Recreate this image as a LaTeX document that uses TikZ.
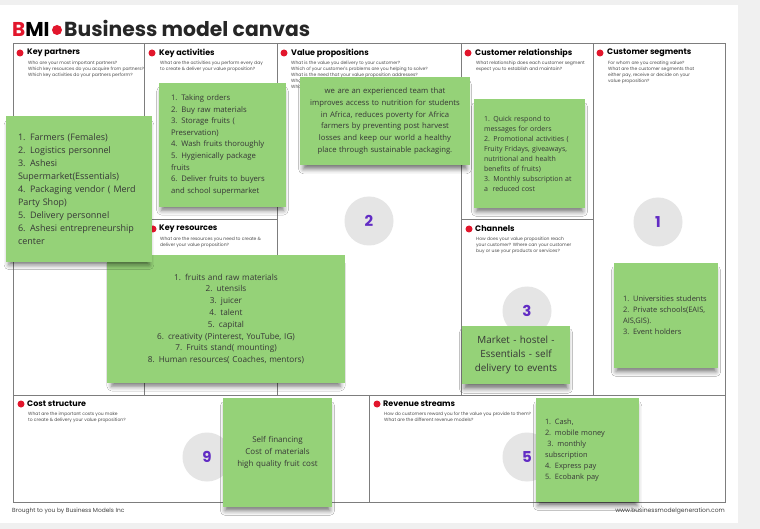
\documentclass[tikz,border=0pt]{standalone}
\usepackage{fontspec}
\setmainfont{Open Sans}
\newfontfamily\poppins{Poppins}
\usetikzlibrary{shadows.blur}

\definecolor{notegreen}{RGB}{149,210,120}
\definecolor{bmired}{RGB}{226,22,44}
\definecolor{numpurple}{RGB}{98,44,196}
\definecolor{gridgray}{RGB}{125,125,125}
\definecolor{notetext}{RGB}{55,55,55}
\definecolor{pagegray}{RGB}{240,240,240}

\tikzset{
  sticky/.style={rectangle, fill=notegreen, text=notetext, inner sep=0pt, blur shadow={shadow xshift=0pt, shadow yshift=-6pt, shadow opacity=55, shadow scale=0.96, shadow blur radius=5pt}},
  reddot/.style={circle, fill=bmired, inner sep=0pt, minimum size=7pt},
  heading/.style={anchor=west, inner sep=0pt, font=\poppins\bfseries\fontsize{8}{9}\selectfont},
  question/.style={anchor=north west, inner sep=0pt, align=left, text=black!70, font=\poppins\fontsize{4.5}{6}\selectfont},
  numcircle/.style={circle, fill=black!10, minimum size=49pt, inner sep=0pt, text=numpurple, font=\poppins\bfseries\fontsize{15}{15}\selectfont},
  footer/.style={inner sep=0pt, text=black!75, font=\poppins\fontsize{5.9}{6}\selectfont}
}

\begin{document}
\begin{tikzpicture}[x=1pt, y=-1pt]
        \useasboundingbox (0,0) rectangle (760,529);
        % Page
        \fill[pagegray] (0,0) rectangle (760,529);
        \fill[white] (0,5) rectangle (738,523);
        % Title
        \node (bmi) [anchor=base west, inner sep=0pt, font=\poppins\bfseries\fontsize{20}{22}\selectfont] at (12,37) {\textcolor{bmired}{B}MI};
        \node (titledot) [reddot, minimum size=10pt] at (57,30) {};
        \node (title) [anchor=base west, inner sep=0pt, font=\poppins\bfseries\fontsize{20.3}{22}\selectfont, text=black!85] at (64,37) {Business model canvas};
        % Grid
        \draw[gridgray, line width=1pt] (13,44) rectangle (725,502);
        \draw[gridgray, line width=1pt] (144,44) -- (144,395);
        \draw[gridgray, line width=1pt] (277,44) -- (277,395);
        \draw[gridgray, line width=1pt] (461,44) -- (461,395);
        \draw[gridgray, line width=1pt] (593,44) -- (593,395);
        \draw[gridgray, line width=1pt] (13,395) -- (725,395);
        \draw[gridgray, line width=1pt] (144,220) -- (277,220);
        \draw[gridgray, line width=1pt] (461,220) -- (593,220);
        \draw[gridgray, line width=1pt] (369,395) -- (369,502);
        % Headings
        \node (dot-kp) [reddot] at (20,53) {};
        \node (head-kp) [heading] at (27,53) {Key partners};
        \node (q-kp) [question] at (28,60.5) {Who are your most important partners?\\Which key resources do you acquire from partners?\\Which key activities do your partners perform?};
        \node (dot-ka) [reddot] at (152,53) {};
        \node (head-ka) [heading] at (159,53) {Key activities};
        \node (q-ka) [question] at (160,60.5) {What are the activities you perform every day\\to create \& deliver your value proposition?};
        \node (dot-vp) [reddot] at (284,53) {};
        \node (head-vp) [heading] at (291,53) {Value propositions};
        \node (q-vp) [question] at (291,60.5) {What is the value you delivery to your customer?\\Which of your customer's problems are you helping to solve?\\What is the need that your value proposition addresses?\\What is your promise to your customers?\\What are the products and services you create?};
        \node (dot-cr) [reddot] at (468,53) {};
        \node (head-cr) [heading] at (475,53) {Customer relationships};
        \node (q-cr) [question] at (476,60.5) {What relationship does each customer segment\\expect you to establish and maintain?};
        \node (dot-cs) [reddot] at (600,53) {};
        \node (head-cs) [heading] at (607,53) {Customer segments};
        \node (q-cs) [question] at (608,60.5) {For whom are you creating value?\\What are the customer segments that\\either pay, receive or decide on your\\value proposition?};
        \node (dot-kr) [reddot] at (153,229) {};
        \node (head-kr) [heading] at (159,229) {Key resources};
        \node (q-kr) [question] at (160,236.5) {What are the resources you need to create \&\\deliver your value proposition?};
        \node (dot-ch) [reddot] at (469,229) {};
        \node (head-ch) [heading] at (475,229) {Channels};
        \node (q-ch) [question] at (476,236.5) {How does your value proposition reach\\your customer? Where can your customer\\buy or use your products or services?};
        \node (dot-cost) [reddot] at (21,404) {};
        \node (head-cost) [heading] at (27,404) {Cost structure};
        \node (q-cost) [question] at (28,411.5) {What are the important costs you make\\to create \& delivery your value proposition?};
        \node (dot-rev) [reddot] at (377,404) {};
        \node (head-rev) [heading] at (383,404) {Revenue streams};
        \node (q-rev) [question] at (384,411.5) {How do customers reward you for the value you provide to them?\\What are the different revenue models?};
        % Numbers
        \node (num-vp) [numcircle] at (369,221) {2};
        \node (num-cs) [numcircle] at (658,222) {1};
        \node (num-ch) [numcircle] at (527,311) {3};
        \node (num-cost) [numcircle] at (207,457) {9};
        \node (num-rev) [numcircle] at (527,457) {5};
        % Sticky notes
        \node (note-kr) [sticky, minimum width=238pt, minimum height=128pt, text width=232pt, align=center, font=\fontsize{8.2}{11.8}\selectfont] at (226,319) {1. fruits and raw materials\\2. utensils\\3. juicer\\4. talent\\5. capital\\6. creativity (Pinterest, YouTube, IG)\\7. Fruits stand( mounting)\\8. Human resources( Coaches, mentors)};
        \node (note-kp) [sticky, minimum width=146pt, minimum height=146pt, text width=122pt, align=left, font=\fontsize{9}{13}\selectfont] at (79,189) {1. Farmers (Females)\\2. Logistics personnel\\3. Ashesi\\Supermarket(Essentials)\\4. Packaging vendor ( Merd\\Party Shop)\\5. Delivery personnel\\6. Ashesi entrepreneurship\\center};
        \node (note-ka) [sticky, minimum width=127pt, minimum height=124pt, text width=103pt, align=left, font=\fontsize{7.7}{11.6}\selectfont] at (222.5,145) {1. Taking orders\\2. Buy raw materials\\3. Storage fruits (\\Preservation)\\4. Wash fruits thoroughly\\5. Hygienically package\\fruits\\6. Deliver fruits to buyers\\and school supermarket};
        \node (note-vp) [sticky, minimum width=170pt, minimum height=88pt, text width=170pt, align=center, font=\fontsize{7.7}{11.7}\selectfont] at (385,121) {we are an experienced team that\\improves access to nutrition for students\\in Africa, reduces poverty for Africa\\farmers by preventing post harvest\\losses and keep our world a healthy\\place through sustainable packaging.};
        \node (note-cr) [sticky, minimum width=111pt, minimum height=109pt, text width=91pt, align=left, font=\fontsize{7}{10}\selectfont] at (529.5,153.5) {1. Quick respond to\\messages for orders\\2. Promotional activities (\\Fruity Fridays, giveaways,\\nutritional and health\\benefits of fruits)\\3. Monthly subscription at\\a~ reduced cost};
        \node (note-ch) [sticky, minimum width=108pt, minimum height=58pt, text width=106pt, align=center, font=\fontsize{9.9}{14}\selectfont] at (516,355) {Market - hostel -\\Essentials - self\\delivery to events};
        \node (note-cs) [sticky, minimum width=104pt, minimum height=105pt, text width=86pt, align=left, font=\fontsize{7.5}{11.1}\selectfont] at (666,315.5) {1. Universities students\\2. Private schools(EAIS,\\AIS,GIS).\\3. Event holders};
        \node (note-cost) [sticky, minimum width=109pt, minimum height=109pt, text width=105pt, align=center, font=\fontsize{8}{12}\selectfont] at (277.5,452.5) {Self financing\\Cost of materials\\high quality fruit cost};
        \node (note-rev) [sticky, minimum width=103pt, minimum height=104pt, text width=85pt, align=left, font=\fontsize{7.4}{11.1}\selectfont] at (587.5,450) {1. Cash,\\2. mobile money\\~3. monthly\\subscription\\4. Express pay\\5. Ecobank pay};
        % Footer
        \node (brought) [footer, anchor=west] at (12,511) {Brought to you by Business Models Inc};
        \node (website) [footer, anchor=east, font=\poppins\fontsize{6}{6}\selectfont] at (725,511) {www.businessmodelgeneration.com};
\end{tikzpicture}
\end{document}
